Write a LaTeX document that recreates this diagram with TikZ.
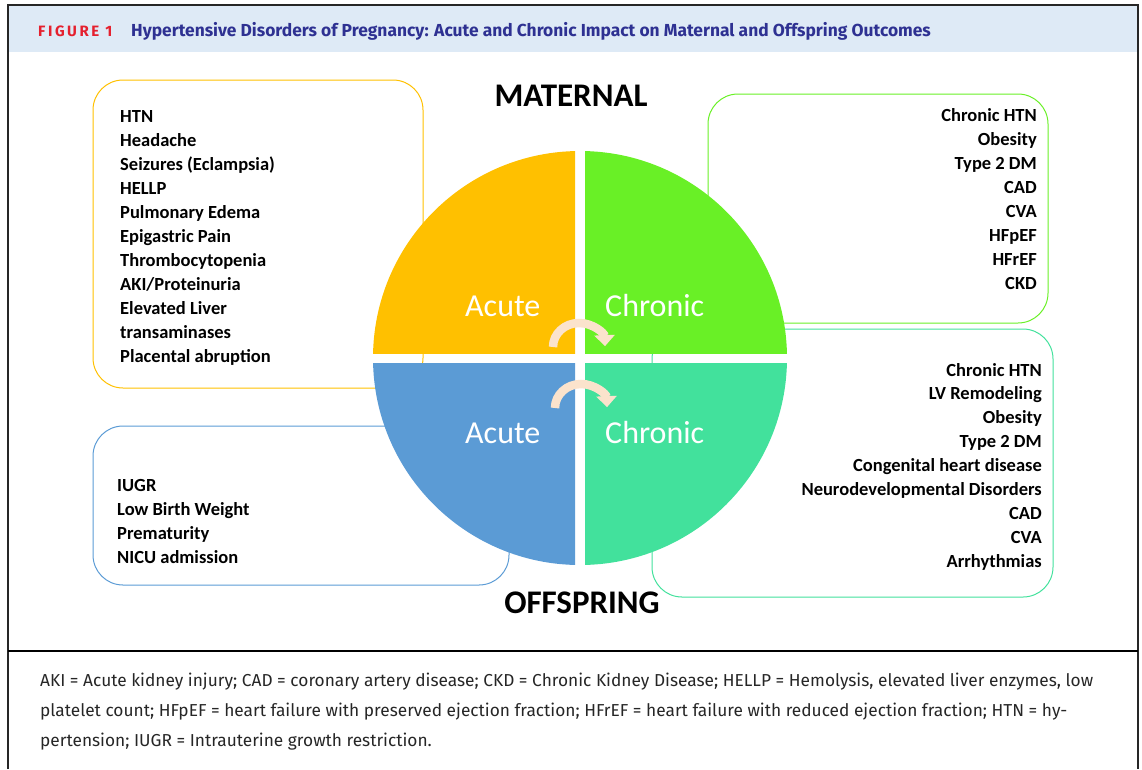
\documentclass[tikz,border=0pt]{standalone}
\usepackage{fontspec}
\setmainfont{Carlito}
\newfontfamily\headfont{Fira Sans}
\newfontfamily\notefont{Fira Sans}
\usetikzlibrary{arrows.meta}

\definecolor{qorange}{HTML}{FFC000}
\definecolor{qgreen}{HTML}{69F026}
\definecolor{qblue}{HTML}{5B9BD5}
\definecolor{qteal}{HTML}{42E19C}
\definecolor{peach}{HTML}{FBE3CC}
\definecolor{headband}{HTML}{DEEAF6}
\definecolor{headred}{HTML}{E5202E}
\definecolor{headnavy}{HTML}{2E3192}

\tikzset{
  listbox/.style={rounded corners=30pt, line width=1pt},
  item/.style={inner sep=0pt, font=\bfseries\fontsize{18.5}{22}\selectfont, text=black},
  qlabel/.style={inner sep=0pt, font=\fontsize{32}{36}\selectfont, text=white},
  sidelabel/.style={inner sep=0pt, font=\bfseries\fontsize{33}{36}\selectfont, text=black},
  note/.style={inner sep=0pt, font=\notefont\fontsize{17.3}{20}\selectfont, text=black!85},
  arrowband/.style={peach, line width=8.5pt, -{Triangle[width=20pt,length=11pt]}},
}

\begin{document}
\begin{tikzpicture}[x=1pt,y=-1pt]
\useasboundingbox (0,0) rectangle (1142,769);

% frame and title band
\fill[headband] (8,6) rectangle (1138,52);
\draw[line width=1.6pt, black!85] (8,769) -- (8,5) -- (1138,5) -- (1138,769);
\draw[line width=2.2pt] (8,651) -- (1138,651);

\node[inner sep=0pt, anchor=base west, text=headred,
      font=\headfont\bfseries\fontsize{15}{15}\selectfont\addfontfeature{LetterSpace=17}]
  (figlabel) at (38,36) {FIGURE 1};
\node[inner sep=0pt, anchor=base west, text=headnavy,
      font=\headfont\bfseries\fontsize{17.4}{17.4}\selectfont]
  (figtitle) at (131,36) {Hypertensive Disorders of Pregnancy: Acute and Chronic Impact on Maternal and Offspring Outcomes};

% list boxes (behind the circle)
\draw[listbox, qorange] (93,80) rectangle (423,388);
\draw[listbox, qgreen]  (708,94) rectangle (1048,323);
\draw[listbox, qteal]   (652,329) rectangle (1053,597);
\draw[listbox, qblue]   (93,426) rectangle (509,585);

% four quadrants of the circle
\begin{scope}
  \clip (360,140) rectangle (575,353);
  \fill[qorange] (580,358) circle[radius=207];
\end{scope}
\begin{scope}
  \clip (585,140) rectangle (800,353);
  \fill[qgreen] (580,358) circle[radius=207];
\end{scope}
\begin{scope}
  \clip (360,363) rectangle (575,575);
  \fill[qblue] (580,358) circle[radius=207];
\end{scope}
\begin{scope}
  \clip (585,363) rectangle (800,575);
  \fill[qteal] (580,358) circle[radius=207];
\end{scope}

\node[qlabel, anchor=base west] (acuteM)   at (465,316) {Acute};
\node[qlabel, anchor=base west] (chronicM) at (605,316) {Chronic};
\node[qlabel, anchor=base west] (acuteO)   at (465,443) {Acute};
\node[qlabel, anchor=base west] (chronicO) at (605,443) {Chronic};

% curved progression arrows
\draw[arrowband] (553,347) arc[start angle=180, end angle=358, x radius=26, y radius=24];
\draw[arrowband] (555,408) arc[start angle=180, end angle=358, x radius=26, y radius=24];

% side titles
\node[sidelabel, anchor=base] (maternal)  at (571,106) {MATERNAL};
\node[sidelabel, anchor=base] (offspring) at (582,613) {OFFSPRING};

% lists
\foreach \t [count=\i] in {HTN, Headache, Seizures (Eclampsia), HELLP, Pulmonary Edema,
    Epigastric Pain, Thrombocytopenia, AKI/Proteinuria, Elevated Liver, transaminases,
    Placental abruption}
  \node[item, anchor=base west] (am\i) at (120,98+24*\i) {\t};

\foreach \t [count=\i] in {Chronic HTN, Obesity, Type 2 DM, CAD, CVA, HFpEF, HFrEF, CKD}
  \node[item, anchor=base east] (cm\i) at (1037,97+24*\i) {\t};

\foreach \t [count=\i] in {Chronic HTN, LV Remodeling, Obesity, Type 2 DM,
    Congenital heart disease, Neurodevelopmental Disorders, CAD, CVA, Arrhythmias}
  \node[item, anchor=base east] (co\i) at (1042,352.1+23.9*\i) {\t};

\foreach \t [count=\i] in {IUGR, Low Birth Weight, Prematurity, NICU admission}
  \node[item, anchor=base west] (ao\i) at (117,467+24*\i) {\t};

% abbreviations
\node[note, anchor=base west] (note1) at (40,686)
  {AKI = Acute kidney injury; CAD = coronary artery disease; CKD = Chronic Kidney Disease; HELLP = Hemolysis, elevated liver enzymes, low};
\node[note, anchor=base west] (note2) at (40,716)
  {platelet count; HFpEF = heart failure with preserved ejection fraction; HFrEF = heart failure with reduced ejection fraction; HTN = hy-};
\node[note, anchor=base west] (note3) at (40,746)
  {pertension; IUGR = Intrauterine growth restriction.};
\end{tikzpicture}
\end{document}
